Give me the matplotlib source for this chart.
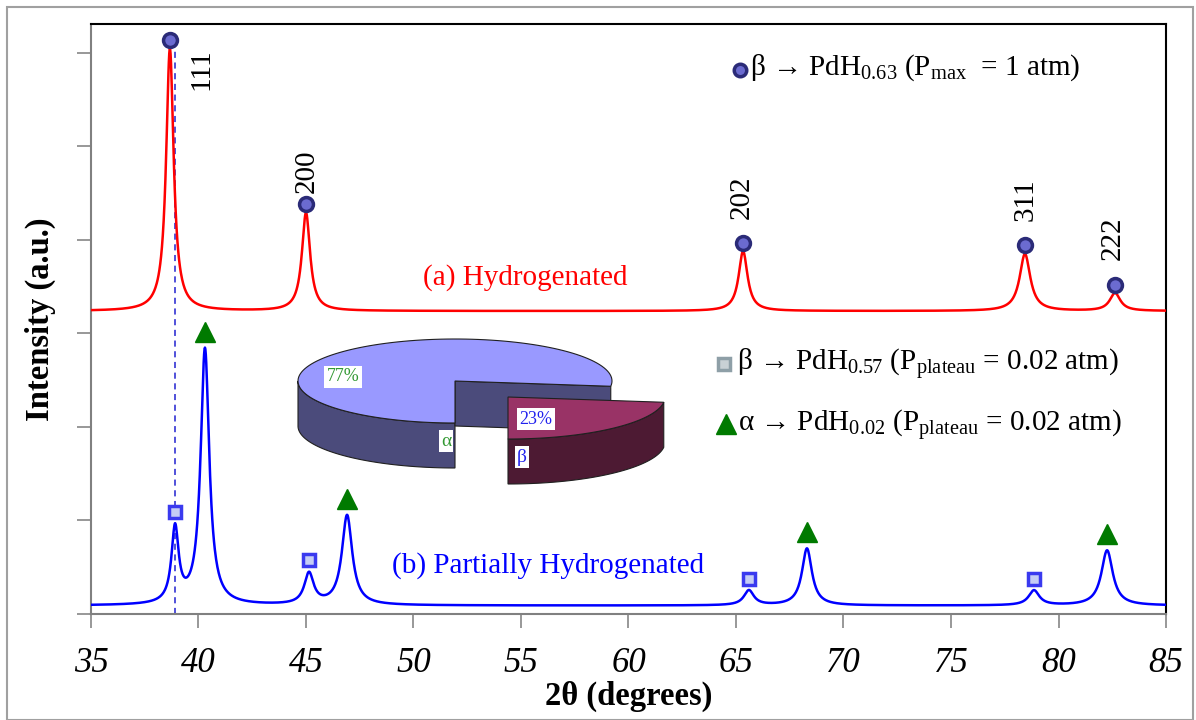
import numpy as np
import matplotlib
matplotlib.use("Agg")
import matplotlib.pyplot as plt
from matplotlib.patches import Polygon, Rectangle

plt.rcParams['font.family'] = ['Liberation Serif', 'DejaVu Serif']
plt.rcParams['mathtext.fontset'] = 'custom'
plt.rcParams['mathtext.rm'] = 'Liberation Serif'
plt.rcParams['mathtext.it'] = 'Liberation Serif:italic'

# (a) hydrogenated : peak position (2theta), height above background, hwhm
a_pos = [38.67, 45.00, 65.33, 78.44, 82.63]
a_amp = [2.81, 1.05, 0.64, 0.61, 0.19]
a_wid = [0.21, 0.23, 0.25, 0.30, 0.30]
a_base = 3.24
a_hkl = ["111", "200", "202", "311", "222"]

# (b) partially hydrogenated
b_pos = [38.91, 40.30, 45.14, 46.91, 65.60, 68.30, 78.86, 82.26]
b_amp = [0.80, 2.74, 0.33, 0.96, 0.16, 0.61, 0.16, 0.59]
b_wid = [0.20, 0.24, 0.26, 0.29, 0.28, 0.28, 0.30, 0.32]
b_phase = ["b", "a", "b", "a", "b", "a", "b", "a"]
b_base = 0.09

# phase fractions in the partially hydrogenated sample
pie_labels = ["α", "β"]
pie_fracs = [77, 23]

x = np.linspace(35, 85, 2501)


def pattern(pos, amp, wid, base):
    y = np.full_like(x, base)
    for p, h, w in zip(pos, amp, wid):
        y += h * w**2 / ((x - p)**2 + w**2)
    return y


ya = pattern(a_pos, a_amp, a_wid, a_base)
yb = pattern(b_pos, b_amp, b_wid, b_base)

W, H = 1196, 720
fig = plt.figure(figsize=(W / 100, H / 100), dpi=100)
ax = fig.add_axes([91 / W, 1 - 614 / H, (1166 - 91) / W, (614 - 24) / H])

ax.plot(x, ya, color='#ff0000', lw=1.8, zorder=3)
ax.plot(x, yb, color='#0000ff', lw=1.8, zorder=3)

# peak markers
for p in a_pos:
    top = np.interp(p, x, ya)
    ax.plot(p, top + 0.09, 'o', ms=10, mfc='#6b6bd0', mec='#2b2b78', mew=2.5, zorder=5)
for p, ph in zip(b_pos, b_phase):
    top = np.interp(p, x, yb)
    if ph == "b":
        ax.plot(p, top + 0.12, 's', ms=9, mfc='#c5cdf5', mec='#3a3aef', mew=2.5, zorder=5)
    else:
        ax.plot(p, top + 0.17, '^', ms=14, color='#007a00', zorder=5)

# dashed reference line at the beta(111) position
ax.plot([b_pos[0], b_pos[0]], [0, 6.03], ls=(0, (4, 3)), color='#2020d0', lw=1.1, zorder=2)

# hkl labels
hkl_xy = [(40.12, 5.60), (45.05, 4.50), (65.28, 4.22), (78.49, 4.20), (82.53, 3.79)]
for lab, (hx, hy) in zip(a_hkl, hkl_xy):
    ax.text(hx, hy, lab, rotation=90, ha='center', va='bottom', fontsize=21)

ax.text(55.19, 3.60, "(a) Hydrogenated", color='#ff0000', fontsize=21, ha='center', va='center')
ax.text(56.26, 0.52, "(b) Partially Hydrogenated", color='#0000ff', fontsize=21,
        ha='center', va='center')

# legend entries
ax.plot(65.19, 5.82, 'o', ms=9, mfc='#6b6bd0', mec='#2b2b78', mew=2.5)
ax.text(65.65, 5.84, r"β → $\mathrm{PdH_{0.63}}$ ($\mathrm{P_{max}}$  = 1 atm)",
        fontsize=21, va='center', ha='left')
ax.plot(64.44, 2.67, 's', ms=8, mfc='#c9d1d5', mec='#8e9fa7', mew=2.5)
ax.text(65.05, 2.67, r"β → $\mathrm{PdH_{0.57}}$ ($\mathrm{P_{plateau}}$ = 0.02 atm)",
        fontsize=21, va='center', ha='left')
ax.plot(64.53, 2.03, '^', ms=14, color='#007a00')
ax.text(65.10, 2.02, r"α → $\mathrm{PdH_{0.02}}$ ($\mathrm{P_{plateau}}$ = 0.02 atm)",
        fontsize=21, va='center', ha='left')

ax.set_xlim(35, 85)
ax.set_ylim(0, 6.31)
ax.set_xticks(np.arange(35, 86, 5))
ax.set_yticks(np.arange(0, 7, 1))
ax.set_yticklabels([])
ax.tick_params(axis='both', direction='out', length=10, color='#909090', width=1.3)
ax.tick_params(axis='x', labelsize=25, pad=14)
for lbl in ax.get_xticklabels():
    lbl.set_style('italic')
for s in ['left', 'bottom']:
    ax.spines[s].set_color('#808080')
    ax.spines[s].set_linewidth(1.5)
for s in ['top', 'right']:
    ax.spines[s].set_color('black')
    ax.spines[s].set_linewidth(1.5)

ax.set_xlabel("2θ (degrees)", fontsize=23.5, fontweight='bold', labelpad=0)
ax.set_ylabel("Intensity (a.u.)", fontsize=23.5, fontweight='bold', labelpad=12)

# 3-D pie of the phase fractions
pax = fig.add_axes([290 / W, 1 - 490 / H, 380 / W, 160 / H])
pax.set_xlim(290, 670)
pax.set_ylim(490, 330)
pax.axis('off')
pax.patch.set_alpha(0)

cx, cy, ra, rb, depth = 455, 381, 157, 42, 45
shift = (53, 16)


def rim(ccx, ccy, t0, t1, dz=0):
    t = np.radians(np.linspace(t0, t1, 120))
    return np.column_stack([ccx + ra * np.cos(t), ccy - rb * np.sin(t) + dz])


span_b = 360 * pie_fracs[1] / sum(pie_fracs)
tb0, tb1 = -90, -90 + span_b
ta0, ta1 = tb1, 270

top_a, side_a = '#9999ff', '#4b4b7b'
top_b, side_b = '#993366', '#4d1a33'
edge = '#202020'

# alpha slice: visible outer wall, cut face, top
wall = np.vstack([rim(cx, cy, 180, 270), rim(cx, cy, 180, 270, depth)[::-1]])
pax.add_patch(Polygon(wall, fc=side_a, ec=edge, lw=0.8))
e = rim(cx, cy, ta0, ta0)[0]
cut = [(cx, cy), tuple(e), (e[0], e[1] + depth), (cx, cy + depth)]
pax.add_patch(Polygon(cut, fc=side_a, ec=edge, lw=0.8))
face = np.vstack([[cx, cy], rim(cx, cy, ta0, ta1), [cx, cy]])
pax.add_patch(Polygon(face, fc=top_a, ec=edge, lw=0.8))

# beta slice, pulled out
bx, by = cx + shift[0], cy + shift[1]
wall = np.vstack([rim(bx, by, tb0, tb1), rim(bx, by, tb0, tb1, depth)[::-1]])
pax.add_patch(Polygon(wall, fc=side_b, ec=edge, lw=0.8))
face = np.vstack([[bx, by], rim(bx, by, tb0, tb1), [bx, by]])
pax.add_patch(Polygon(face, fc=top_b, ec=edge, lw=0.8))

box = dict(fc='white', ec='none', pad=1.5)
pax.text(343, 377, f"{pie_fracs[0]}%", color='#339933', fontsize=13, ha='center', va='center', bbox=box)
pax.text(446, 441, pie_labels[0], color='#339933', fontsize=14, ha='center', va='center', bbox=box)
pax.text(536, 419, f"{pie_fracs[1]}%", color='#2222ee', fontsize=13, ha='center', va='center', bbox=box)
pax.text(522, 457, pie_labels[1], color='#2222ee', fontsize=14, ha='center', va='center', bbox=box)

# outer frame
fig.patches.append(Rectangle((7 / W, 0), (1193 - 7) / W, (H - 7) / H, transform=fig.transFigure,
                             fill=False, ec='#a0a0a0', lw=1.5))

fig.savefig("out.png", dpi=100)
